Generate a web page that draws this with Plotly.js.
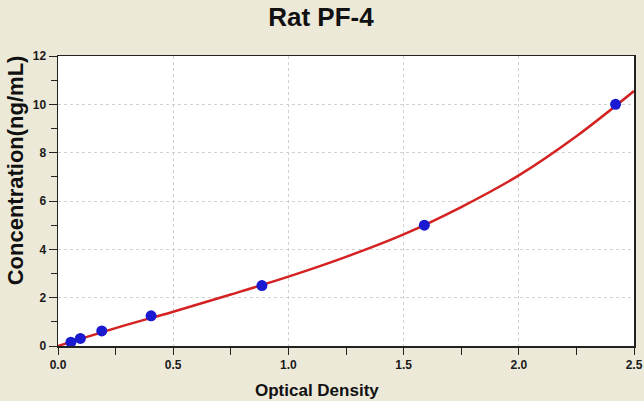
<!DOCTYPE html>
<html>
<head>
<meta charset="utf-8">
<script src="https://cdn.plot.ly/plotly-3.0.1.min.js"></script>
<style>html,body{margin:0;padding:0;background:#ECE9D8;}#chart{width:644px;height:401px;}</style>
</head>
<body>
<div id="chart"></div>
<script>
// Standard points (optical density vs concentration)
const standardOD = [0.056, 0.097, 0.19, 0.404, 0.885, 1.59, 2.42];
const standardConc = [0.156, 0.312, 0.625, 1.25, 2.5, 5, 10];
// Fitted curve
const curveOD = [0, 0.25, 0.5, 0.75, 1.0, 1.25, 1.5, 1.75, 2.0, 2.25, 2.5];
const curveConc = [0, 0.74, 1.42, 2.13, 2.87, 3.69, 4.62, 5.75, 7.06, 8.68, 10.55];
// Tick labels
const xTickVals = [0, 0.5, 1.0, 1.5, 2.0, 2.5];
const xTickText = ["0.0", "0.5", "1.0", "1.5", "2.0", "2.5"];
const yTickVals = [0, 2, 4, 6, 8, 10, 12];
const yTickText = ["0", "2", "4", "6", "8", "10", "12"];

const FONT = "Liberation Sans, Arial, sans-serif";

const traces = [
  {
    x: curveOD, y: curveConc, type: "scatter", mode: "lines",
    line: {color: "#d42222", width: 2.5, shape: "spline", smoothing: 1},
    hoverinfo: "skip", showlegend: false
  },
  {
    x: standardOD, y: standardConc, type: "scatter", mode: "markers",
    marker: {color: "#1a1ad0", size: 11, line: {width: 0}},
    showlegend: false
  }
];

const layout = {
  width: 644, height: 401,
  paper_bgcolor: "#ECE9D8",
  plot_bgcolor: "#ffffff",
  margin: {l: 58, r: 10, t: 56, b: 55, pad: 0},
  showlegend: false,
  title: {
    text: "<b>Rat PF-4</b>",
    font: {family: FONT, size: 26, color: "#111111"},
    x: 0.4984, xanchor: "center", xref: "container",
    y: 0.958, yanchor: "middle", yref: "container"
  },
  xaxis: {
    range: [0, 2.5],
    tickmode: "array", tickvals: xTickVals, ticktext: xTickText,
    ticks: "outside", ticklen: 7, tickwidth: 1, tickcolor: "#222222",
    tickfont: {family: FONT, size: 12, color: "#1a1a1a", weight: "bold"},
    showline: true, linecolor: "#222222", linewidth: 1.5, mirror: true,
    showgrid: true, gridcolor: "#d0d0d0", griddash: "dot", gridwidth: 1,
    zeroline: false,
    minor: {dtick: 0.25, tick0: 0, ticks: "outside", ticklen: 7, tickwidth: 1, tickcolor: "#222222", showgrid: false}
  },
  yaxis: {
    range: [0, 12],
    tickmode: "array", tickvals: yTickVals, ticktext: yTickText,
    ticks: "outside", ticklen: 8, tickwidth: 1, tickcolor: "#222222",
    tickfont: {family: FONT, size: 12, color: "#1a1a1a", weight: "bold"},
    showline: true, linecolor: "#222222", linewidth: 1.5, mirror: true,
    showgrid: true, gridcolor: "#d0d0d0", griddash: "dot", gridwidth: 1,
    zeroline: false,
    minor: {dtick: 1, tick0: 0, ticks: "outside", ticklen: 6, tickwidth: 1, tickcolor: "#222222", showgrid: false}
  },
  annotations: [
    {
      text: "<b>Optical Density</b>", xref: "paper", yref: "paper",
      x: 0.4488, y: -0.155, xanchor: "center", yanchor: "middle",
      showarrow: false, font: {family: FONT, size: 17, color: "#111111"}
    },
    {
      text: "<b>Concentration(ng/mL)</b>", xref: "paper", yref: "paper",
      x: -0.0733, y: 0.605, xanchor: "center", yanchor: "middle",
      textangle: -90, showarrow: false,
      font: {family: FONT, size: 22, color: "#111111"}
    }
  ]
};

Plotly.newPlot("chart", traces, layout, {displayModeBar: false, staticPlot: true});
</script>
</body>
</html>
